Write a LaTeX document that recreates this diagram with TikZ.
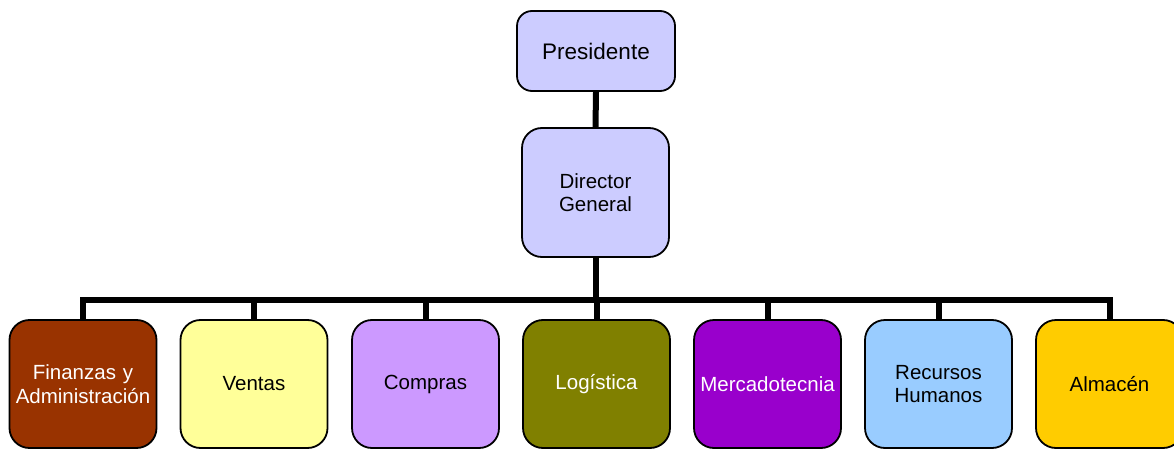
\documentclass[tikz,border=0pt]{standalone}
\usepackage{fontspec}
\setmainfont{Liberation Sans}
\usetikzlibrary{backgrounds}
\definecolor{lavender}{HTML}{CCCCFF}
\definecolor{finanzas}{HTML}{993300}
\definecolor{ventas}{HTML}{FFFF99}
\definecolor{compras}{HTML}{CC99FF}
\definecolor{logistica}{HTML}{808000}
\definecolor{mercado}{HTML}{9900CC}
\definecolor{rrhh}{HTML}{99CCFF}
\definecolor{almacen}{HTML}{FFCC00}
\tikzset{
  orgbox/.style={draw=black, line width=1.8pt, rounded corners=20pt,
    minimum width=147pt, minimum height=128pt, inner sep=0pt,
    align=center, text width=145pt,
    font=\fontsize{20.5pt}{23.5pt}\selectfont},
  topbox/.style={orgbox, fill=lavender, rounded corners=15pt,
    minimum width=158pt, minimum height=80pt, text width=156pt,
    font=\fontsize{22.5pt}{25pt}\selectfont},
  dirbox/.style={orgbox, fill=lavender, minimum height=129pt},
  link/.style={line width=6pt, black, line join=miter}
}
\begin{document}
\begin{tikzpicture}[x=1pt, y=-1pt]
  \useasboundingbox (0,0) rectangle (1174,449);
  \node[topbox] (pres) at (596,51) {Presidente};
  \node[dirbox] (dir) at (595.5,192.5) {Director\\General};
  \coordinate (bus) at (0,300);
  \node[orgbox, fill=finanzas, text=white] (fin) at (83,384) {Finanzas y\\Administración};
  \node[orgbox, fill=ventas] (ven) at (254,384) {Ventas};
  \node[orgbox, fill=compras] (com) at (425.5,384) {Compras};
  \node[orgbox, fill=logistica, text=white] (log) at (596.5,384) {Logística};
  \node[orgbox, fill=mercado, text=white] (mer) at (767.5,384) {Mercadotecnia};
  \node[orgbox, fill=rrhh] (rh) at (938.5,384) {Recursos\\Humanos};
  \node[orgbox, fill=almacen] (alm) at (1109.5,384) {Almacén};
  \begin{scope}[on background layer]
    \draw[link] (pres.south) -- (dir.north);
    \foreach \c in {fin,ven,com,log,mer,rh,alm}
      \draw[link] (dir.south) -- (dir.south |- bus) -| (\c.north);
  \end{scope}
\end{tikzpicture}
\end{document}
